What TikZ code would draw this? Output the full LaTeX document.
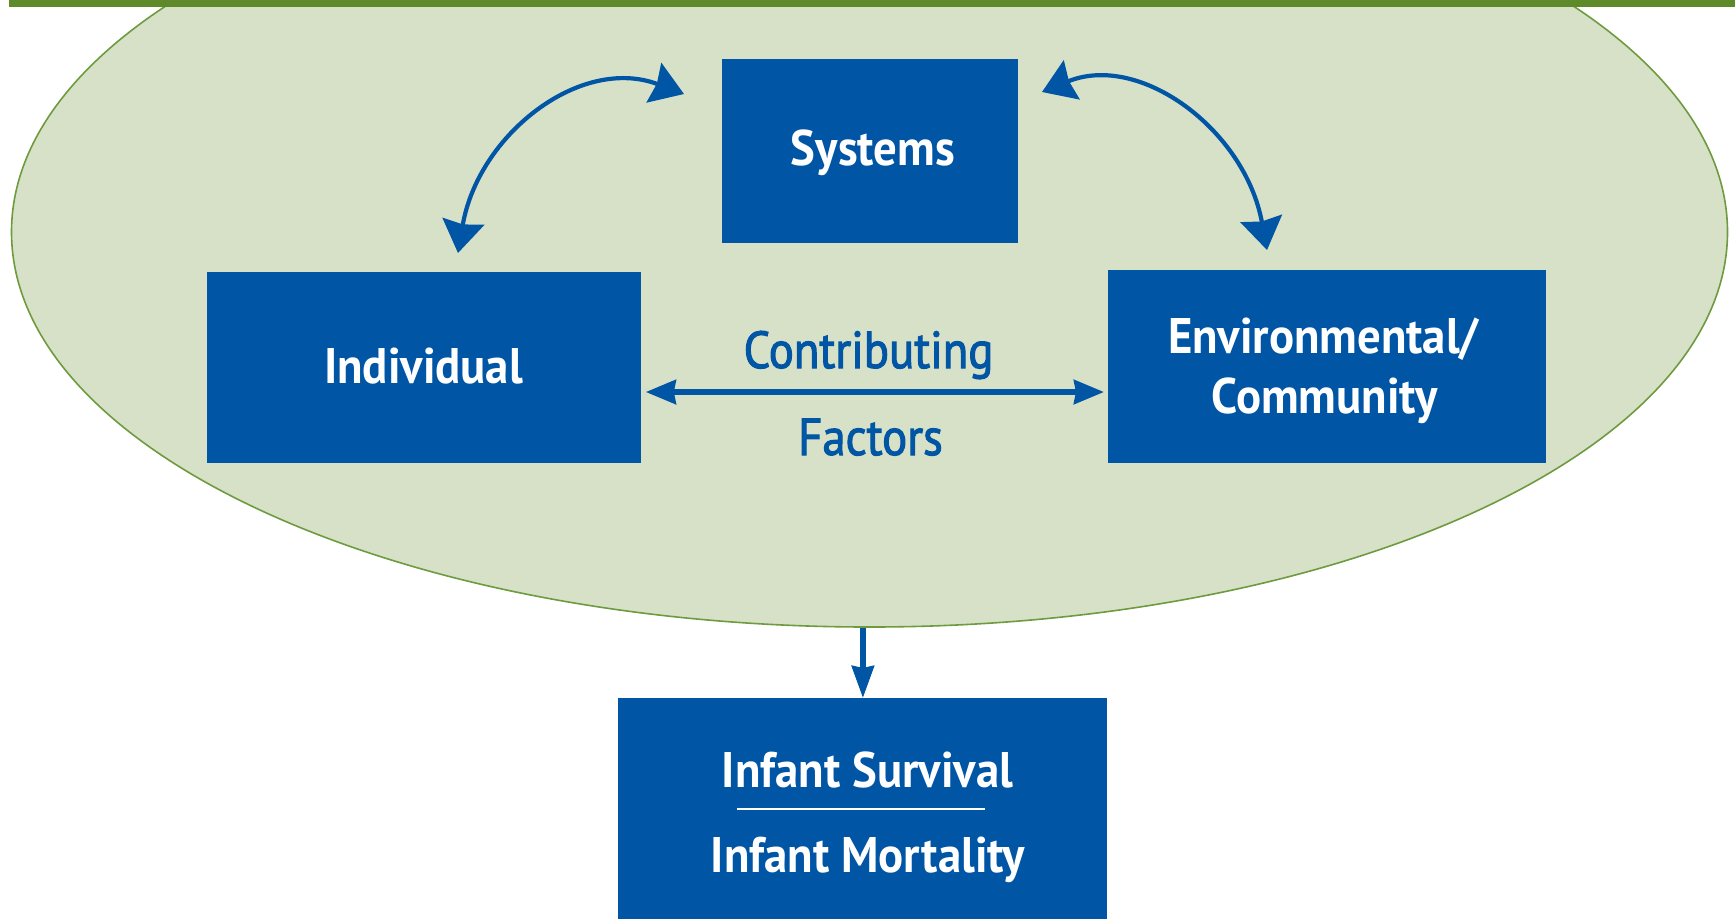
\documentclass[tikz,border=0pt]{standalone}
\usepackage{fontspec}
\setmainfont{PT Sans}
\newfontfamily\boxfont{PT Sans}[FakeStretch=0.935]
\newfontfamily\cffont{PT Sans}[FakeStretch=0.9,FakeBold=2]
\usetikzlibrary{arrows.meta,shapes.geometric}
\definecolor{boxblue}{HTML}{0055A5}
\definecolor{ovalfill}{HTML}{D7E1C7}
\definecolor{ovalline}{HTML}{6E9B3F}
\definecolor{bargreen}{HTML}{5E8A2A}
\tikzset{
  box/.style={fill=boxblue, draw=none, inner sep=0pt, anchor=north west},
  boxtext/.style={text=white, font=\boxfont\fontsize{25pt}{30pt}\selectfont\bfseries, inner sep=0pt, anchor=base},
  cftext/.style={text=boxblue, font=\cffont\fontsize{26pt}{31pt}\selectfont, inner sep=0pt, anchor=base},
  curvearrow/.style={color=boxblue, line width=2.1pt, {Stealth[length=16pt,width=21pt,inset=1.5pt,fill=boxblue]}-{Stealth[length=16pt,width=21pt,inset=1.5pt,fill=boxblue]}},
  flatarrow/.style={color=boxblue, line width=2.8pt, {Stealth[length=15pt,width=12pt,inset=1pt]}-{Stealth[length=15pt,width=12pt,inset=1pt]}},
  downarrow/.style={color=boxblue, line width=2.8pt, -{Stealth[length=16pt,width=11pt,inset=1pt]}}
}
\begin{document}
\begin{tikzpicture}[x=0.5pt,y=-0.5pt]
\useasboundingbox (0,0) rectangle (1735,918);
\clip (0,0) rectangle (1735,918);
% oval
\node[ellipse, minimum width=858pt, minimum height=395pt, fill=ovalfill, draw=ovalline, line width=0.8pt, inner sep=0pt] (oval) at (869.5,232) {};
% top bar
\fill[bargreen] (9,-2) rectangle (1737,7);
% boxes
\node[box, minimum width=148pt, minimum height=92pt] (sys) at (722,59) {};
\node[box, minimum width=217pt, minimum height=95.5pt] (ind) at (207,272) {};
\node[box, minimum width=219pt, minimum height=96.5pt] (env) at (1108,270) {};
\node[box, minimum width=244.5pt, minimum height=125pt] (inf) at (618,698) {};
% box texts
\node[boxtext] (systxt) at (873,165) {Systems};
\node[boxtext] (indtxt) at (423.5,383) {Individual};
\node[boxtext] (envtxta) at (1323.5,353) {Environmental/};
\node[boxtext] (envtxtb) at (1324.5,413) {Community};
\node[boxtext] (inftxta) at (867.5,787) {Infant Survival};
\node[boxtext] (inftxtb) at (868,872) {Infant Mortality};
\draw[white, line width=1pt] (737,809) -- (985,809);
% contributing factors
\node[cftext] (cf1) at (868.5,368) {Contributing};
\node[cftext] (cf2) at (870.5,455) {Factors};
% connectors
\coordinate (la) at (458,253);
\coordinate (lb) at (684,94);
\coordinate (ra) at (1042,92);
\coordinate (rb) at (1267,250);
\coordinate (fy) at (0,392);
\draw[curvearrow] (la) .. controls (478,135) and (580,55) .. (lb);
\draw[curvearrow] (ra) .. controls (1140,52) and (1245,130) .. (rb);
\path (ind.east |- fy) ++(4,0) coordinate (fa);
\path (env.west |- fy) ++(-4,0) coordinate (fb);
\draw[flatarrow] (fa) -- (fb);
\draw[downarrow] (inf.north |- oval.south) -- (inf.north);
\end{tikzpicture}
\end{document}
